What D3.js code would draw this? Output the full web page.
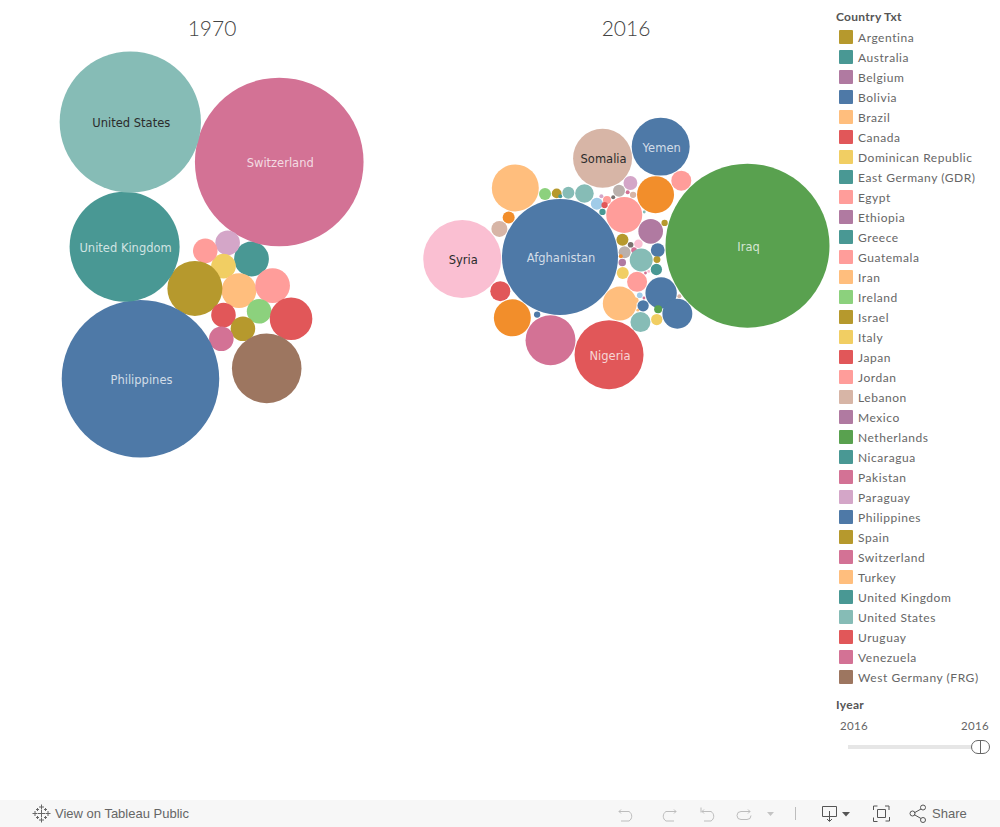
<!DOCTYPE html>
<html>
<head>
<meta charset="utf-8">
<title>1970 / 2016</title>
<script src="https://cdn.jsdelivr.net/npm/d3@7"></script>
<style>
  body { margin: 0; background: #fff; }
  svg { display: block; }
  .legendText { font-family: Lato, sans-serif; font-size: 12px; letter-spacing: .55px; fill: #666; }
  .sliderText { font-family: Lato, sans-serif; font-size: 11.5px; letter-spacing: .3px; fill: #666; }
  .legendTitle { font-family: Lato, sans-serif; font-size: 12px; font-weight: 700; letter-spacing: .3px; fill: #555; }
  .bubbleLabel { font-family: "DejaVu Sans", sans-serif; font-size: 11.5px; text-anchor: middle; }
  .bar { font-family: "Liberation Sans", sans-serif; font-size: 13px; fill: #666; }
  .icon { fill: none; stroke: #555; stroke-width: 1; }
  .off { stroke: #bdbdbd; }
</style>
</head>
<body>
<div id="chart"></div>
<script>
// colour groups, same order as the palette below
const groupNames = ["blue", "ltblue", "orange", "ltorange", "green", "ltgreen", "olive", "yellow", "teal", "ltteal",
  "red", "ltred", "grey", "ltgrey", "pink", "ltpink", "purple", "ltpurple", "brown", "ltbrown"];
const palette = ["#4E79A7", "#A0CBE8", "#F28E2B", "#FFBE7D", "#59A14F", "#8CD17D", "#B6992D", "#F1CE63", "#499894", "#86BCB6",
  "#E15759", "#FF9D9A", "#79706E", "#BAB0AC", "#D37295", "#FABFD2", "#B07AA1", "#D4A6C8", "#9D7660", "#D7B5A6"];

const legendNames = ["Argentina", "Australia", "Belgium", "Bolivia", "Brazil", "Canada", "Dominican Republic",
  "East Germany (GDR)", "Egypt", "Ethiopia", "Greece", "Guatemala", "Iran", "Ireland", "Israel", "Italy", "Japan",
  "Jordan", "Lebanon", "Mexico", "Netherlands", "Nicaragua", "Pakistan", "Paraguay", "Philippines", "Spain",
  "Switzerland", "Turkey", "United Kingdom", "United States", "Uruguay", "Venezuela", "West Germany (FRG)"];
const legendGroups = ["olive", "teal", "purple", "blue", "ltorange", "red", "yellow",
  "teal", "ltred", "purple", "teal", "ltred", "ltorange", "ltgreen", "olive", "yellow", "red",
  "ltred", "ltbrown", "purple", "green", "teal", "pink", "ltpurple", "blue", "olive",
  "pink", "ltorange", "teal", "ltteal", "red", "pink", "brown"];

// 1970. Bubbles are built up in this order
const labels1970 = ["", "Switzerland", "", "", "", "", "", "", "", "", "", "",
  "Philippines", "United Kingdom", "United States", "", ""];
const values1970 = [2, 47, 1, 1, 2, 1, 5, 1, 2, 1, 1, 1, 41, 20, 33, 3, 8];
const groups1970 = ["teal", "pink", "ltpurple", "yellow", "ltorange", "ltred", "olive", "red", "ltred", "ltgreen", "olive", "pink",
  "blue", "teal", "ltteal", "red", "brown"];
// which two earlier bubbles each one rests on (from the third bubble on)
const rests1970 = [[1,0],[2,0],[3,0],[2,3],[5,4],[6,4],[4,0],[4,8],[7,9],[7,10],[6,11],[6,12],[1,13],[9,8],[10,15]];

// 2016
const labels2016 = ["Afghanistan", "Syria", "", "", "", "", "", "", "", "", "", "", "", "", "", "", "", "", "", "", "", "", "",
  "Somalia", "", "", "", "", "", "", "", "", "", "Yemen", "", "", "", "", "", "", "", "",
  "Nigeria", "", "", "", "Iraq", "", "", "", "", "", "", "", "", "", "", "", "", "", ""];
const values2016 = [1682, 760, 32, 50, 171, 312, 18, 276, 18, 12, 18, 43, 18, 5, 162, 18, 8, 5, 2, 2, 5, 2, 18,
  435, 18, 7, 18, 2, 4, 24, 2, 5, 171, 420, 50, 1, 4, 9, 66, 76, 50, 144,
  595, 50, 16, 123, 3362, 24, 1, 4, 1, 1, 16, 6, 5, 2, 112, 16, 4, 1, 8];
const groups2016 = ["blue", "ltpink", "ltbrown", "red", "orange", "pink", "orange", "ltorange", "ltgreen", "olive", "ltteal", "ltteal", "ltblue", "teal",
  "ltred", "olive", "ltred", "red", "ltpurple", "teal", "blue", "grey", "ltgrey",
  "ltbrown", "ltgrey", "purple", "yellow", "orange", "grey", "ltpurple", "pink", "ltbrown", "orange", "blue", "ltred", "ltteal", "pink", "ltpink", "ltteal", "purple", "ltred", "ltorange",
  "red", "ltteal", "blue", "blue", "green", "blue", "pink", "ltblue", "pink", "ltpink", "teal", "olive", "olive", "ltbrown", "blue", "yellow", "ltorange", "ltorange", "green"];
const rests2016 = [[0,1],[1,0],[3,0],[4,0],[0,2],[0,6],[0,7],[0,8],[0,9],[0,10],[0,11],[0,12],[0,13],[0,14],
  [14,12],[14,13],[16,12],[10,0],[0,5],[14,16],[14,21],[22,11],[0,15],[0,24],[0,25],[25,0],[24,15],[22,23],
  [22,29],[14,30],[14,31],[32,23],[32,33],[14,32],[24,28],[36,28],[24,37],[37,14],[26,38],[0,40],[5,41],[42,41],
  [43,41],[44,40],[45,34],[38,39],[45,44],[40,48],[40,38],[50,38],[51,38],[52,38],[46,39],[45,46],[55,46],[43,56],
  [49,44],[43,41],[56,57]];

const svgWidth = 1000;
const svgHeight = 827;

const svg = d3.select("#chart").append("svg")
  .attr("width", svgWidth)
  .attr("height", svgHeight);

const colour = d3.scaleOrdinal().domain(groupNames).range(palette);
const radius1970 = d3.scaleSqrt().domain([0, 1]).range([0, 12.3]);
const radius2016 = d3.scaleSqrt().domain([0, 1]).range([0, Math.SQRT2]);

// packs one bubble against two placed ones, no bubble position is stored
function restOn(a, b, r) {
  const dx = b.x - a.x, dy = b.y - a.y, d = Math.hypot(dx, dy);
  const ra = a.r + r, rb = b.r + r;
  const p = (ra * ra - rb * rb + d * d) / (2 * d);
  const h = Math.sqrt(Math.max(0, ra * ra - p * p));
  return { x: a.x + (p * dx - h * dy) / d, y: a.y + (p * dy + h * dx) / d };
}

function buildBubbles(values, labels, groups, rests, rScale, gap, x0, y0, angle) {
  const nodes = values.map((v, i) => ({ value: v, label: labels[i], group: groups[i], size: rScale(v), r: rScale(v) + gap }));
  nodes[0].x = x0;
  nodes[0].y = y0;
  const dist = nodes[0].r + nodes[1].r;
  nodes[1].x = x0 + dist * Math.cos(angle);
  nodes[1].y = y0 + dist * Math.sin(angle);
  rests.forEach(function(pair, i) {
    const node = nodes[i + 2];
    const spot = restOn(nodes[pair[0]], nodes[pair[1]], node.r);
    node.x = spot.x;
    node.y = spot.y;
  });
  return nodes;
}

function drawBubbles(nodes, title, titleX) {
  const g = svg.append("g");
  g.selectAll("circle")
    .data(nodes)
    .enter()
    .append("circle")
    .attr("cx", d => d.x)
    .attr("cy", d => d.y)
    .attr("r", d => d.size)
    .attr("fill", d => colour(d.group));

  g.selectAll("text")
    .data(nodes.filter(d => d.label))
    .enter()
    .append("text")
    .attr("class", "bubbleLabel")
    .attr("x", d => d.x + 1)
    .attr("y", d => d.y + 1)
    .attr("dy", ".35em")
    .attr("fill", d => d3.hcl(colour(d.group)).l > 70 ? "#2b2b2b" : "#ffffff")
    .attr("fill-opacity", d => d3.hcl(colour(d.group)).l > 70 ? 1 : .75)
    .text(d => d.label);

  svg.append("text")
    .attr("x", titleX)
    .attr("y", 36)
    .attr("text-anchor", "middle")
    .attr("font-family", "Lato, sans-serif")
    .attr("font-weight", 300)
    .attr("font-size", 21)
    .attr("fill", "#444")
    .text(title);
}

drawBubbles(buildBubbles(values1970, labels1970, groups1970, rests1970, radius1970, -0.4, 251.5, 259, -74.05 * Math.PI / 180), "1970", 212);
drawBubbles(buildBubbles(values2016, labels2016, groups2016, rests2016, radius2016, 0.4, 560, 257, 178.81 * Math.PI / 180), "2016", 626);

// legend
const legendX = 839;
const legendY = d3.scaleLinear().domain([0, 1]).range([30, 50]);
svg.append("text").attr("class", "legendTitle").attr("x", 836).attr("y", 21).text("Country Txt");
const rows = svg.append("g").selectAll("g")
  .data(legendNames)
  .enter()
  .append("g")
  .attr("transform", (d, i) => `translate(${legendX}, ${legendY(i)})`);
rows.append("rect")
  .attr("width", 14)
  .attr("height", 14)
  .attr("rx", 1)
  .attr("fill", (d, i) => colour(legendGroups[i]));
rows.append("text")
  .attr("class", "legendText")
  .attr("x", 19)
  .attr("y", 12)
  .text(d => d);

// year slider
svg.append("text").attr("class", "legendTitle").attr("x", 836).attr("y", 709).text("Iyear");
svg.append("text").attr("class", "sliderText").attr("x", 840).attr("y", 730).text("2016");
svg.append("text").attr("class", "sliderText").attr("x", 961).attr("y", 730).text("2016");
svg.append("rect").attr("x", 848).attr("y", 745).attr("width", 124).attr("height", 4).attr("fill", "#e6e6e6");
svg.append("rect").attr("x", 971.5).attr("y", 740.5).attr("width", 18).attr("height", 13).attr("rx", 6.5)
  .attr("fill", "#fff").attr("stroke", "#666");
svg.append("line").attr("x1", 980.5).attr("x2", 980.5).attr("y1", 741).attr("y2", 753).attr("stroke", "#666");

// toolbar
const bar = svg.append("g");
bar.append("rect").attr("x", 0).attr("y", 800).attr("width", svgWidth).attr("height", 27).attr("fill", "#f7f7f7");
bar.append("text").attr("class", "bar").attr("x", 55).attr("y", 818).text("View on Tableau Public");
bar.append("text").attr("class", "bar").attr("x", 932).attr("y", 818).text("Share");

// logo, a few small crosses
const logo = bar.append("g").attr("transform", "translate(41.5, 813.5)").attr("stroke", "#666").attr("fill", "none");
[[0, -6.5, 2.5], [0, 6.5, 2.5], [-6.5, 0, 2.5], [6.5, 0, 2.5], [0, 0, 3.5], [-4, -4, 1.5], [4, -4, 1.5], [-4, 4, 1.5], [4, 4, 1.5]].forEach(function(c) {
  logo.append("path").attr("d", `M${c[0] - c[2]},${c[1]}h${2 * c[2]}M${c[0]},${c[1] - c[2]}v${2 * c[2]}`);
});

const iconPaths = [
  ["M621,809.5l-2,2 2,2M619,811.5h10a5.5,5.5 0 0 1 0,9.5h-8", "icon off"],
  ["M674,809.5l2,2 -2,2M676,811.5h-10a5.5,5.5 0 0 0 0,9.5h8", "icon off"],
  ["M701,807.5v5M704,809.5l-2,2 2,2M702,811.5h9a5.5,5.5 0 0 1 0,9.5h-7", "icon off"],
  ["M748,809.5l2,2 -2,2M750,811.5h-9a4,4 0 0 0 0,8h6a4,4 0 0 0 4,-4", "icon off"],
  ["M795.5,807v13", "icon off"],
  ["M822.5,806.5h14v10h-14zM829.5,811v10M827,819l2.5,2.5 2.5,-2.5", "icon"],
  ["M873.5,810v-4h4M885,806h4v4M889.5,817v4h-4M877.5,821.5h-4v-4M877.5,809.5h8v8h-8z", "icon"],
  ["M914,813l7,-4M914,814.5l7,4", "icon"]
];
iconPaths.forEach(function(p) {
  bar.append("path").attr("d", p[0]).attr("class", p[1]);
});
bar.append("circle").attr("class", "icon").attr("cx", 912.5).attr("cy", 813.5).attr("r", 2.5);
bar.append("circle").attr("class", "icon").attr("cx", 923).attr("cy", 807.5).attr("r", 2.5);
bar.append("circle").attr("class", "icon").attr("cx", 923).attr("cy", 820).attr("r", 2.5);
bar.append("path").attr("d", "M767,812h7l-3.5,4z").attr("fill", "#c4c4c4");
bar.append("path").attr("d", "M842,812h8l-4,4.5z").attr("fill", "#555");
</script>
</body>
</html>
